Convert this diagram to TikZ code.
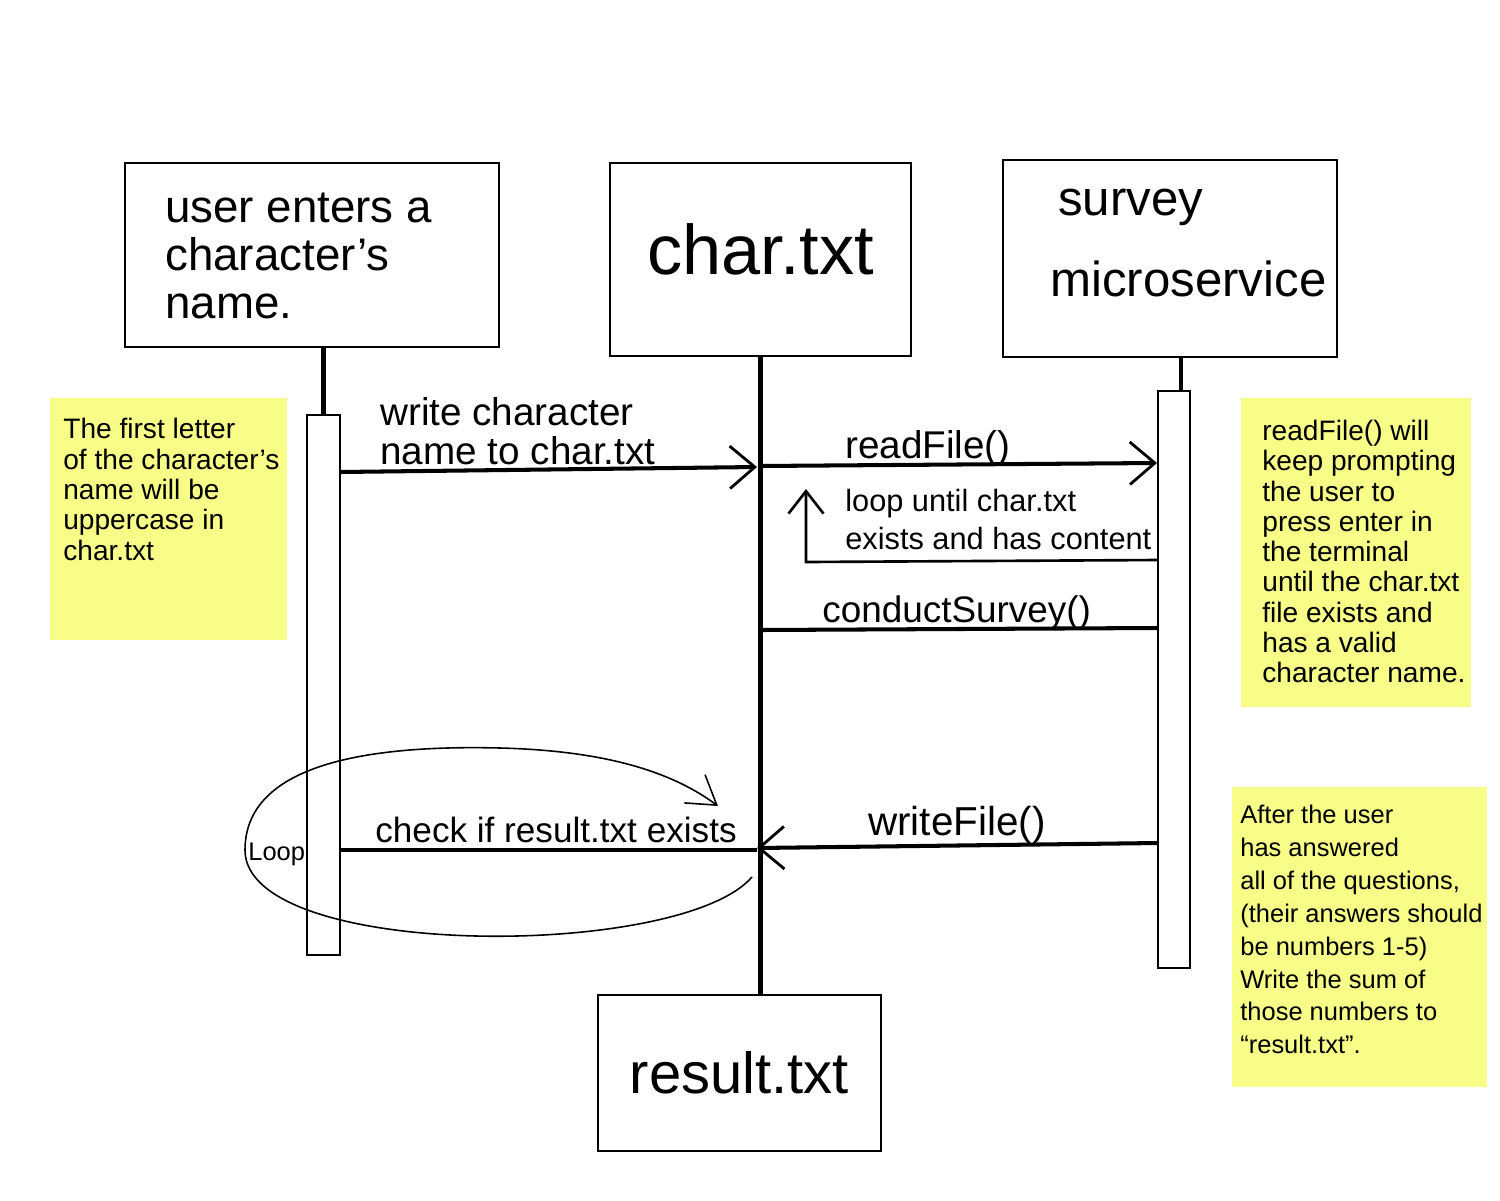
\documentclass[tikz,border=0pt]{standalone}
\usepackage{fontspec}
\setmainfont{Liberation Sans}
\usepackage{tikz}
\usetikzlibrary{arrows.meta}
\definecolor{notecolor}{RGB}{248,253,135}

\begin{document}
\begin{tikzpicture}[x=0.02cm,y=-0.02cm,
    box/.style={draw,line width=1.3pt,inner sep=0pt,outer sep=0pt},
    bar/.style={draw,line width=1.1pt,fill=white,inner sep=0pt,outer sep=0pt,minimum width=0.65cm},
    note/.style={fill=notecolor,inner sep=0pt,outer sep=0pt},
    notetext/.style={anchor=north west,align=left,inner sep=0pt},
    lbl/.style={anchor=base west,inner sep=0pt},
    lifeline/.style={line width=2.3pt},
    msg/.style={line width=2.3pt,-{Straight Barb[length=0.5cm,width=0.85cm,line width=1.6pt]}}]
    \useasboundingbox (0,0) rectangle (1500,1200);

    % Sticky notes
    \node[note,minimum width=4.74cm,minimum height=4.84cm] (leftnote) at (168.5,519) {};
    \node[notetext,font=\fontsize{16}{17.3}\selectfont] (leftnotetext) at (63,418)
        {The first letter\\of the character's\\name will be\\uppercase in\\char.txt};
    \node[note,minimum width=4.6cm,minimum height=6.18cm] (readnote) at (1356,552.5) {};
    \node[notetext,font=\fontsize{16}{17.2}\selectfont] (readnotetext) at (1262,420)
        {readFile() will\\keep prompting\\the user to\\press enter in\\the terminal\\until the char.txt\\file exists and\\has a valid\\character name.};
    \node[note,minimum width=5.1cm,minimum height=6cm] (writenote) at (1359.5,937) {};
    \node[notetext,font=\fontsize{14.5}{18.7}\selectfont] (writenotetext) at (1240,805)
        {After the user\\has answered\\all of the questions,\\(their answers should\\be numbers 1-5)\\Write the sum of\\those numbers to\\``result.txt''.};

    % Participants
    \node[box,minimum width=7.48cm,minimum height=3.68cm] (user) at (312,255) {};
    \node[notetext,font=\fontsize{26}{27.2}\selectfont] (usertext) at (165,193)
        {user enters a\\character's\\name.};
    \node[box,minimum width=6.02cm,minimum height=3.86cm,font=\fontsize{40}{40}\selectfont] (char) at (760.5,259.5) {\raisebox{12pt}{char.txt}};
    \node[box,minimum width=6.68cm,minimum height=3.94cm] (survey) at (1170,258.5) {};
    \node[lbl,font=\fontsize{28}{28}\selectfont] (surveytext) at (1058,215) {survey};
    \node[lbl,font=\fontsize{28}{28}\selectfont] (microtext) at (1050,296) {microservice};
    \node[box,minimum width=5.66cm,minimum height=3.12cm,font=\fontsize{33}{33}\selectfont] (result) at (739.5,1073) {result.txt};

    % Lifelines
    \node[bar,minimum height=10.8cm] (userbar) at (323.5,685) {};
    \node[bar,minimum height=11.54cm] (surveybar) at (1174,679.5) {};
    \draw[lifeline] (userbar.north |- user.south) -- (userbar.north);
    \draw[lifeline] (char.south) -- (char.south |- result.north);
    \draw[lifeline] ([xshift=4pt]surveybar.north |- survey.south) -- ([xshift=4pt]surveybar.north);

    % Messages
    \coordinate (writeS) at (340,472);
    \coordinate (writeE) at (757,467);
    \draw[msg] (writeS) -- (writeE);
    \node[notetext,font=\fontsize{22}{22}\selectfont] (writelbl) at (380,397)
        {write character\\name to char.txt};

    \coordinate (readS) at (760,466);
    \coordinate (readE) at (1157,463);
    \draw[msg] (readS) -- (readE);
    \node[lbl,font=\fontsize{22}{22}\selectfont] (readlbl) at (845,458) {readFile()};

    \coordinate (loopS) at (1158,560);
    \coordinate (loopC) at (806,562);
    \coordinate (loopE) at (806,489);
    \draw[line width=1.5pt,-{Straight Barb[length=0.45cm,width=0.7cm,line width=1.5pt]}]
        (loopS) -- (loopC) -- (loopE);
    \node[notetext,font=\fontsize{17.5}{21.5}\selectfont] (looplbl) at (845,489)
        {loop until char.txt\\exists and has content};

    \coordinate (condS) at (760,630);
    \coordinate (condE) at (1158,628);
    \draw[line width=2.3pt] (condS) -- (condE);
    \node[lbl,font=\fontsize{21}{21}\selectfont] (condlbl) at (822,622) {conductSurvey()};

    \coordinate (wfS) at (1158,843);
    \coordinate (wfE) at (757,848);
    \draw[msg] (wfS) -- (wfE);
    \node[lbl,font=\fontsize{23}{23}\selectfont] (wflbl) at (868,835) {writeFile()};

    % Check loop
    \coordinate (chkS) at (340,850);
    \coordinate (chkE) at (757,850);
    \draw[line width=2.3pt] (chkS) -- (chkE);
    \node[lbl,font=\fontsize{20}{20}\selectfont] (chklbl) at (375,842) {check if result.txt exists};
    \coordinate (ringS) at (752,877);
    \coordinate (ringE) at (718,806);
    \draw[line width=0.9pt,-{Straight Barb[length=0.55cm,width=0.7cm,line width=0.9pt]}]
        (ringS) .. controls (680,960) and (245,960) .. (245,850)
        .. controls (245,760) and (380,745) .. (500,748)
        .. controls (620,751) and (680,778) .. (ringE);
    \node[lbl,font=\fontsize{14.5}{14.5}\selectfont] (looptext) at (248,860) {Loop};
\end{tikzpicture}
\end{document}
